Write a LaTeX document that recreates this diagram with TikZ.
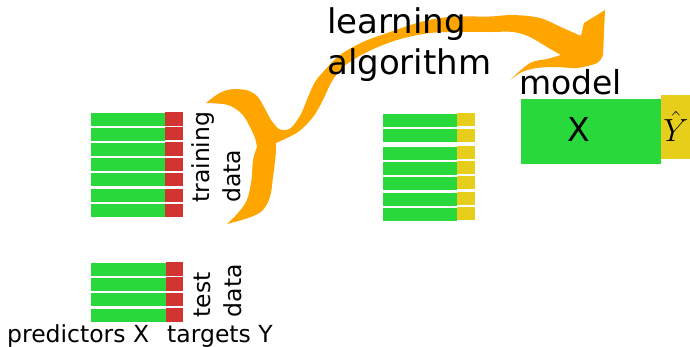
\RequirePackage{fix-cm}
\documentclass[tikz,border=0pt]{standalone}
\usepackage{fontspec}
\setmainfont{DejaVu Sans}
\definecolor{rowgreen}{RGB}{41,217,59}
\definecolor{rowred}{RGB}{210,52,50}
\definecolor{rowyellow}{RGB}{231,206,26}
\definecolor{arroworange}{RGB}{255,165,0}
\tikzset{
  biglbl/.style={inner sep=0pt,font=\fontsize{34}{40}\selectfont},
  smalllbl/.style={inner sep=0pt,font=\fontsize{23.5}{28}\selectfont},
}
\begin{document}
\begin{tikzpicture}[x=1pt,y=-1pt]
\useasboundingbox (0,0) rectangle (690,346);
% orange brace + arrow
\fill[arroworange]
  plot[smooth,tension=0.55] coordinates {(206,103) (218,94) (230,89.5) (246,90) (257,96) (264,107) (271,120) (279,129) (286,130)}
  -- plot[smooth,tension=0.55] coordinates {(286,130) (292,127) (301,114) (308,97) (315,82) (324,71) (340,55) (363,42) (390,32) (417,23) (440,18) (463,16.5) (490,16.5) (513,15) (540,18) (563,28) (581,36)}
  -- (584,23) -- (605,10) -- (603,55)
  -- plot[smooth,tension=0.55] coordinates {(603,55) (597,63) (577,68) (557,67) (537,68) (522,72) (510,80)}
  -- plot[smooth,tension=0.55] coordinates {(510,80) (530,63) (547,59) (561,55)}
  -- plot[smooth,tension=0.55] coordinates {(561,55) (547,47) (530,37) (513,32) (490,32) (463,32) (430,33) (397,40) (367,52) (343,67) (331,83) (323,100) (313,117) (298,132) (276,143)}
  -- plot[smooth,tension=0.55] coordinates {(276,143) (275.5,157) (273,177) (270,197) (262,211) (248,218) (227,224)}
  -- plot[smooth,tension=0.55] coordinates {(227,224) (238,213) (247,200) (251.5,180) (253,160) (257,147)}
  -- plot[smooth,tension=0.55] coordinates {(257,147) (255,138) (250,127) (242,114) (228,105) (206,103)}
  -- cycle;
% training data rows
\foreach \t in {112.7,127.5,142.7,158.3,173.3,189,204.3} {
  \fill[rowgreen] (91,\t) rectangle (165,\t+13);
  \fill[rowred] (165,\t-0.5) rectangle (183,\t+12.8);
}
% middle rows
\foreach \g/\yl in {114/112.7,129/129,147/145.7,162/160.7,177/176,193/191.7,208/206.7} {
  \fill[rowgreen] (382.7,\g) rectangle (457.3,\g+12.7);
  \fill[rowyellow] (457.3,\yl) rectangle (475,\yl+13);
}
% test data rows
\foreach \t in {262.7,277.7,293.3,308.7} {
  \fill[rowgreen] (91,\t) rectangle (165.7,\t+13);
  \fill[rowred] (165.7,\t-0.5) rectangle (183,\t+12.8);
}
% model boxes
\fill[rowgreen] (521,99) rectangle (661,163.7);
\fill[rowyellow] (661,94.7) rectangle (690,159.3);
% labels
\node[biglbl,anchor=base west] (learn1) at (327,33.3) {learning};
\node[biglbl,anchor=base west] (learn2) at (327,74) {algorithm};
\node[biglbl,anchor=base west,font=\fontsize{33}{40}\selectfont] (model) at (519,94.3) {model};
\node[biglbl,font=\fontsize{33}{40}\selectfont] (xin) at (579,129.5) {X};
\node[inner sep=0pt,anchor=base,font=\fontsize{32}{38}\selectfont] (yhat) at (676,141.7) {$\hat{Y}$};
\node[smalllbl,rotate=90,anchor=base west] (train1) at (209.5,203) {training};
\node[smalllbl,rotate=90,anchor=base west] (train2) at (240,203) {data};
\node[smalllbl,rotate=90,anchor=base west] (test1) at (210,317.5) {test};
\node[smalllbl,rotate=90,anchor=base west] (test2) at (241,317.5) {data};
\node[smalllbl,anchor=base west] (pred) at (7,342.5) {predictors X};
\node[smalllbl,anchor=base west] (targ) at (167,342.5) {targets Y};
\end{tikzpicture}
\end{document}
